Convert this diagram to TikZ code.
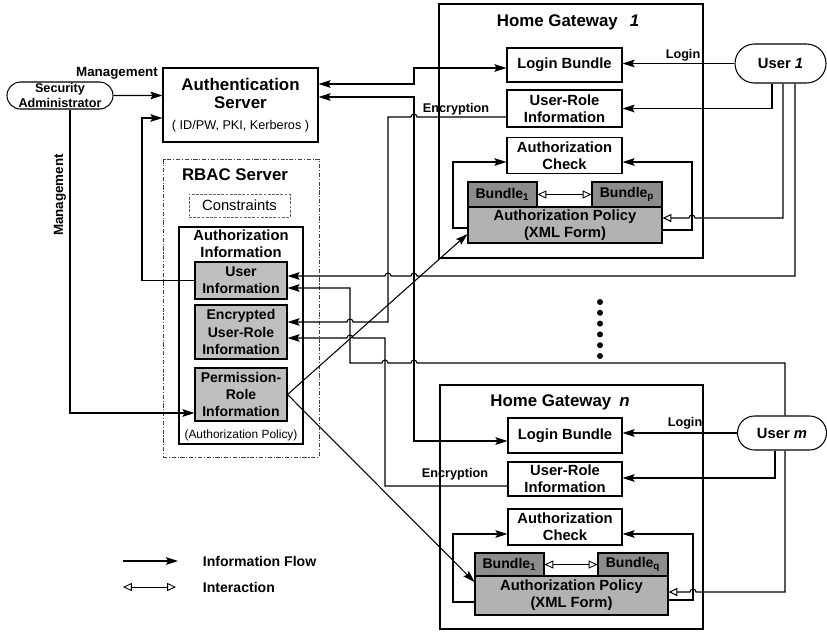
\documentclass[tikz,border=0pt]{standalone}
\usepackage{fontspec}
\setmainfont{Liberation Sans}
\usetikzlibrary{arrows.meta,shapes.misc}
\newlength{\pxu}
\setlength{\pxu}{0.025cm}
\newcommand{\fsz}[2]{\fontsize{#1}{#2}\selectfont}

\tikzset{
  box/.style={draw, line width=0.75pt, inner sep=0pt, align=center, font=\fsz{10.5}{12.2}\bfseries},
  infobox/.style={box, fill=black!25, font=\fsz{10}{12.4}\bfseries},
  polbox/.style={box, fill=black!30},
  bunbox/.style={box, fill=black!45, font=\fsz{10}{12}\bfseries},
  pill/.style={draw, rounded rectangle, line width=0.75pt, inner sep=0pt, align=center, font=\fsz{10.5}{12}\bfseries},
  tag/.style={font=\fsz{9}{11}\bfseries, inner sep=1pt},
  flow/.style={line width=0.75pt, -{Stealth[length=3mm,width=1.9mm,inset=0.5mm]}},
  twoway/.style={line width=0.75pt, {Stealth[length=3mm,width=1.9mm,inset=0.5mm]}-{Stealth[length=3mm,width=1.9mm,inset=0.5mm]}},
  hollow/.style={line width=0.75pt, -{Triangle[open,length=2.2mm,width=2mm,fill=white]}},
  inter/.style={line width=0.6pt, {Triangle[open,length=2.2mm,width=2mm,fill=white]}-{Triangle[open,length=2.2mm,width=2mm,fill=white]}},
}

\begin{document}
\begin{tikzpicture}[x=0.025cm, y=-0.025cm]
    \useasboundingbox (0,0) rectangle (827,633);

    % administrator and servers
    \node[pill, minimum width=106\pxu, minimum height=27\pxu, font=\fsz{9}{10.7}\bfseries] (sa) at (60,95.5) {Security\\Administrator};
    \node[tag, font=\fsz{9.5}{11}\bfseries] (mg1) at (117,73) {Management};
    \node[tag, font=\fsz{9.5}{11}\bfseries, rotate=90] (mg2) at (60,195) {Management};
    \node[box, minimum width=155\pxu, minimum height=74\pxu, font=\fsz{12}{13}\bfseries] (as) at (240.5,105) {Authentication\\Server\\[2pt]{\fsz{9}{11}\mdseries ( ID/PW, PKI, Kerberos )}};

    \node[draw=black!75, line width=0.6pt, dash pattern=on 3pt off 1.2pt on 0.8pt off 1.2pt, minimum width=156\pxu, minimum height=298\pxu] (rbac) at (241,308) {};
    \node[font=\fsz{12}{13}\bfseries] (rbact) at (235,175) {RBAC Server};
    \node[draw=black!60, line width=0.5pt, dash pattern=on 2pt off 1pt, minimum width=101\pxu, minimum height=23\pxu, font=\fsz{10.5}{12}] (cons) at (239.5,205.5) {Constraints};
    \node[draw, line width=0.75pt, minimum width=124\pxu, minimum height=217\pxu] (ai) at (241,335.5) {};
    \node[font=\fsz{10.5}{12.4}\bfseries, align=center] (ait) at (241,243.5) {Authorization\\Information};
    \node[infobox, minimum width=92\pxu, minimum height=37\pxu] (ui) at (241,280.5) {User\\Information};
    \node[infobox, minimum width=92\pxu, minimum height=54\pxu] (eur) at (241,332) {Encrypted\\User-Role\\Information};
    \node[infobox, minimum width=92\pxu, minimum height=53\pxu] (pri) at (241,394.5) {Permission-\\Role\\Information};
    \node[font=\fsz{8.5}{10}] (aip) at (241,435) {(Authorization Policy)};

    % home gateway 1
    \node[draw, line width=0.8pt, minimum width=264\pxu, minimum height=254\pxu] (gw1) at (571,131) {};
    \node[font=\fsz{12}{13}\bfseries] (gw1t) at (568,22) {Home Gateway\hspace{12\pxu}\textit{1}};
    \node[box, minimum width=115\pxu, minimum height=34\pxu] (lb1) at (564.5,65) {Login Bundle};
    \node[box, minimum width=115\pxu, minimum height=37\pxu] (ur1) at (564.5,108.5) {User-Role\\Information};
    \node[box, minimum width=115\pxu, minimum height=36\pxu] (ac1) at (564.5,155.5) {Authorization\\Check};
    \node[bunbox, minimum width=69\pxu, minimum height=25\pxu] (b11) at (502.5,194.5) {Bundle\textsubscript{1}};
    \node[bunbox, minimum width=70\pxu, minimum height=25\pxu] (b1p) at (627,194.5) {Bundle\textsubscript{p}};
    \node[polbox, minimum width=194\pxu, minimum height=36\pxu] (ap1) at (565,225) {Authorization Policy\\(XML Form)};
    \node[pill, minimum width=91\pxu, minimum height=39\pxu] (u1) at (780.5,63.5) {User \textit{1}};

    % home gateway n
    \node[draw, line width=0.8pt, minimum width=263\pxu, minimum height=244\pxu] (gwn) at (571.5,507) {};
    \node[font=\fsz{12}{13}\bfseries] (gwnt) at (560,402) {Home Gateway\hspace{8\pxu}\textit{n}};
    \node[box, minimum width=114\pxu, minimum height=35\pxu] (lbn) at (565,435.5) {Login Bundle};
    \node[box, minimum width=114\pxu, minimum height=34\pxu] (urn) at (565,479) {User-Role\\Information};
    \node[box, minimum width=114\pxu, minimum height=36\pxu] (acn) at (565,527) {Authorization\\Check};
    \node[bunbox, minimum width=69\pxu, minimum height=23\pxu] (bn1) at (509.5,564.5) {Bundle\textsubscript{1}};
    \node[bunbox, minimum width=70\pxu, minimum height=23\pxu] (bnq) at (633,564.5) {Bundle\textsubscript{q}};
    \node[polbox, minimum width=193\pxu, minimum height=39\pxu] (apn) at (571.5,595.5) {Authorization Policy\\(XML Form)};
    \node[pill, minimum width=89\pxu, minimum height=34\pxu] (um) at (782,433) {User \textit{m}};

    \node[tag] (enc1) at (456,109) {Encryption};
    \node[tag] (encn) at (455,474) {Encryption};
    \node[tag] (lg1) at (683,55) {Login};
    \node[tag] (lgn) at (685,423) {Login};

    \foreach \k in {0,...,5}
        \fill (600,302+10.8*\k) circle[radius=3\pxu];

    % legend
    \coordinate (lf0) at (123,561);
    \coordinate (lf1) at (178,561);
    \coordinate (li0) at (123,587);
    \coordinate (li1) at (176,587);
    \node[anchor=west, font=\fsz{10}{12}\bfseries] (lft) at (198,561) {Information Flow};
    \node[anchor=west, font=\fsz{10}{12}\bfseries] (lit) at (198,587) {Interaction};

    \draw[flow] (sa) -- (as.west |- sa);
    \draw[flow] (sa.south -| 70,0) |- (pri.west |- 0,413);
    \draw[flow] (ui.west) -- (ui.west -| 142,0) |- (as.west |- 0,118);
    \draw[twoway] (as.east |- 0,84) -- (414,84) |- (lb1.west |- 0,68);
    \draw[twoway] (as.east |- 0,97) -- (414,97) |- (lbn.west |- 0,441);

    % encryption
    \draw[flow] (ur1.west |- 0,117) -- (417,117) arc[start angle=0, end angle=180, radius=3\pxu] -- (388,117) -- (388,322)
        -- (353,322) arc[start angle=0, end angle=180, radius=3\pxu] -- (eur.east |- 0,322);
    \draw[flow] (urn.west |- 0,486) -- (385,486) -- (385,338)
        -- (353,338) arc[start angle=0, end angle=180, radius=3\pxu] -- (eur.east |- 0,338);

    % users to user information
    \draw[flow] (u1.south -| 795,0) -- (795,276) -- (417,276) arc[start angle=0, end angle=180, radius=3\pxu]
        -- (391,276) arc[start angle=0, end angle=180, radius=3\pxu] -- (ui.east |- 0,276);
    \draw[flow] (um.north -| 785,0) -- (785,363) -- (417,363) arc[start angle=0, end angle=180, radius=3\pxu]
        -- (388,363) arc[start angle=0, end angle=180, radius=3\pxu] -- (350,363) -- (350,288) -- (ui.east |- 0,288);

    \draw[flow] (pri.east) -- (ap1.west |- 0,234);
    \draw[flow] (pri.east) -- (apn.west |- 0,582);

    % inside gateway 1
    \draw[flow] (u1.west) -- (lb1.east |- u1.west);
    \draw[flow] (u1.south -| 772,0) |- (ur1.east);
    \draw[hollow] (u1.south -| 783,0) -- (783,218) -- (695,218) arc[start angle=0, end angle=180, radius=3\pxu] -- (ap1.east |- 0,218);
    \draw[flow] (ap1.west |- 0,228) -- (453,228) |- (ac1.west |- 0,162);
    \draw[flow] (ap1.east |- 0,230) -- (692,230) |- (ac1.east |- 0,162);
    \draw[inter] (b11.east) -- (b1p.west);

    % inside gateway n
    \draw[flow] (um.west) -- (lbn.east |- um.west);
    \draw[flow] (um.south -| 775,0) |- (urn.east |- 0,478);
    \draw[hollow] (um.south -| 785,0) -- (785,592) -- (696,592) arc[start angle=0, end angle=180, radius=3\pxu] -- (apn.east |- 0,592);
    \draw[flow] (apn.west |- 0,602) -- (453,602) |- (acn.west |- 0,534);
    \draw[flow] (apn.east |- 0,600) -- (693,600) |- (acn.east |- 0,534);
    \draw[inter] (bn1.east) -- (bnq.west);

    \draw[flow] (lf0) -- (lf1);
    \draw[inter] (li0) -- (li1);
\end{tikzpicture}
\end{document}
